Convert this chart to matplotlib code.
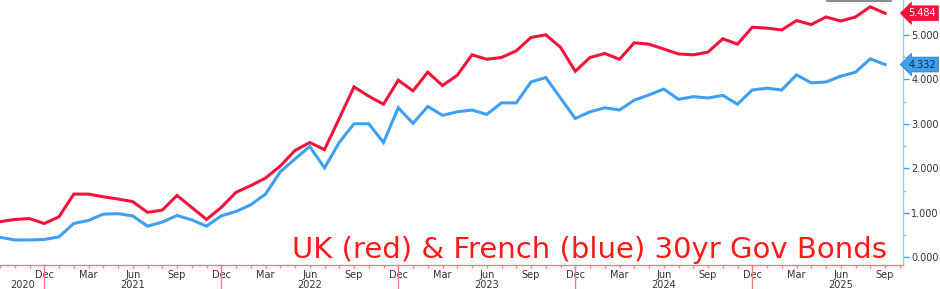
import matplotlib
matplotlib.use("Agg")
import matplotlib.pyplot as plt
from matplotlib.lines import Line2D
from matplotlib.ticker import FixedLocator, MultipleLocator, NullFormatter

# ---- data (monthly, Sep 2020 .. Sep 2025) ----
start_year, start_month = 2020, 9
uk_30y = [0.80, 0.85, 0.87, 0.76, 0.91, 1.42, 1.42, 1.36, 1.31, 1.25,
          1.01, 1.06, 1.39, 1.12, 0.85, 1.12, 1.46, 1.61, 1.78, 2.05,
          2.40, 2.58, 2.42, 3.12, 3.83, 3.62, 3.44, 3.98, 3.74, 4.16,
          3.86, 4.09, 4.55, 4.45, 4.49, 4.64, 4.94, 5.00, 4.72, 4.18,
          4.49, 4.58, 4.45, 4.82, 4.79, 4.68, 4.57, 4.55, 4.61, 4.91,
          4.79, 5.17, 5.15, 5.11, 5.32, 5.23, 5.40, 5.31, 5.40, 5.63,
          5.484]
fr_30y = [0.45, 0.39, 0.39, 0.40, 0.46, 0.76, 0.83, 0.97, 0.98, 0.93,
          0.70, 0.79, 0.94, 0.84, 0.70, 0.93, 1.03, 1.18, 1.42, 1.92,
          2.21, 2.49, 2.01, 2.58, 3.00, 3.00, 2.58, 3.36, 3.01, 3.39,
          3.19, 3.27, 3.31, 3.21, 3.47, 3.47, 3.94, 4.04, 3.58, 3.12,
          3.27, 3.36, 3.31, 3.53, 3.65, 3.78, 3.55, 3.61, 3.58, 3.64,
          3.44, 3.76, 3.80, 3.76, 4.10, 3.92, 3.94, 4.07, 4.16, 4.46,
          4.332]
month_names = ["Jan", "Feb", "Mar", "Apr", "May", "Jun",
               "Jul", "Aug", "Sep", "Oct", "Nov", "Dec"]
labelled_months = ["Dec", "Mar", "Jun", "Sep"]
y_ticks = [0, 1, 2, 3, 4, 5]
title_text = "UK (red) & French (blue) 30yr Gov Bonds"

RED = "#f0143c"
BLUE = "#3f9ff2"
AXRED = "#f08090"

W, H = 940, 289
fig = plt.figure(figsize=(W / 100, H / 100), dpi=100)
ax = fig.add_axes([0, (H - 265) / H, 903 / W, 265 / H])

n = len(uk_30y)
x = list(range(n))
ax.plot(x, uk_30y, color=RED, lw=2.2, solid_joinstyle="miter", zorder=3)
ax.plot(x, fr_30y, color=BLUE, lw=2.2, solid_joinstyle="miter", zorder=3)

ax.set_xlim(0, 903 / 14.75)
ax.set_ylim(-0.173, 5.782)

# spines
for s in ["top", "left"]:
    ax.spines[s].set_visible(False)
ax.spines["bottom"].set_color(AXRED)
ax.spines["bottom"].set_linewidth(1.0)
ax.spines["right"].set_color("#9cc8f0")
ax.spines["right"].set_linewidth(1.0)

# y axis on the right
ax.yaxis.tick_right()
ax.set_yticks(y_ticks)
ax.set_yticklabels([f"{v:.3f}" for v in y_ticks])
ax.yaxis.set_minor_locator(MultipleLocator(0.5))
ax.tick_params(axis="y", which="major", direction="out", length=4, width=1,
               color=BLUE, labelsize=7, labelcolor="#333333", pad=2)
ax.tick_params(axis="y", which="minor", direction="out", length=2, width=1,
               color="#9cc8f0")

# x axis: monthly ticks, labels at Dec/Mar/Jun/Sep
months = [(start_month - 1 + i) % 12 for i in range(n + 1)]
years = [start_year + (start_month - 1 + i) // 12 for i in range(n + 1)]
ax.xaxis.set_minor_locator(FixedLocator(list(range(n + 1))))
ax.xaxis.set_minor_formatter(NullFormatter())
lab_pos = [i for i in range(1, n + 1) if month_names[months[i]] in labelled_months]
ax.set_xticks(lab_pos)
ax.set_xticklabels([month_names[months[i]] for i in lab_pos])
ax.tick_params(axis="x", which="major", direction="out", length=2.5, width=1,
               color=AXRED, labelsize=7, labelcolor="#333333", pad=1)
ax.tick_params(axis="x", which="minor", direction="out", length=2.5, width=1,
               color=AXRED)

# year separators and labels
dec_pos = [i for i in range(n + 1) if months[i] == 11]
trans = ax.get_xaxis_transform()
for p in dec_pos:
    ax.add_line(Line2D([p, p], [0, -24 / 265], transform=trans, color=AXRED,
                       lw=1, clip_on=False))
bounds = [0] + dec_pos + [n + 2]
for a, b in zip(bounds[:-1], bounds[1:]):
    yr = years[a + 1] if a in dec_pos else years[a]
    ax.text((a + b) / 2, -20 / 265, str(yr), transform=trans, ha="center",
            va="center", fontsize=7, color="#333333", clip_on=False)

# last value tags
ax.text(1.006, uk_30y[-1], f"{uk_30y[-1]:.3f}", transform=ax.get_yaxis_transform(),
        ha="left", va="center", fontsize=7, color="white",
        bbox=dict(boxstyle="larrow,pad=0.25", fc=RED, ec=RED, lw=0.5))
ax.text(1.006, fr_30y[-1], f"{fr_30y[-1]:.3f}", transform=ax.get_yaxis_transform(),
        ha="left", va="center", fontsize=7, color="#1a2a3a",
        bbox=dict(boxstyle="larrow,pad=0.25", fc=BLUE, ec="#2070c0", lw=0.5))

# big caption
fig.text(887 / W, 1 - 258 / H, title_text, ha="right", va="baseline",
         fontsize=21, color="#ff1a1a")

# small gray line at top right
fig.add_artist(Line2D([827 / W, 891 / W], [1 - 0.5 / H, 1 - 0.5 / H],
                      transform=fig.transFigure, color="#777777", lw=1.2))

fig.savefig("out.png", dpi=100)
